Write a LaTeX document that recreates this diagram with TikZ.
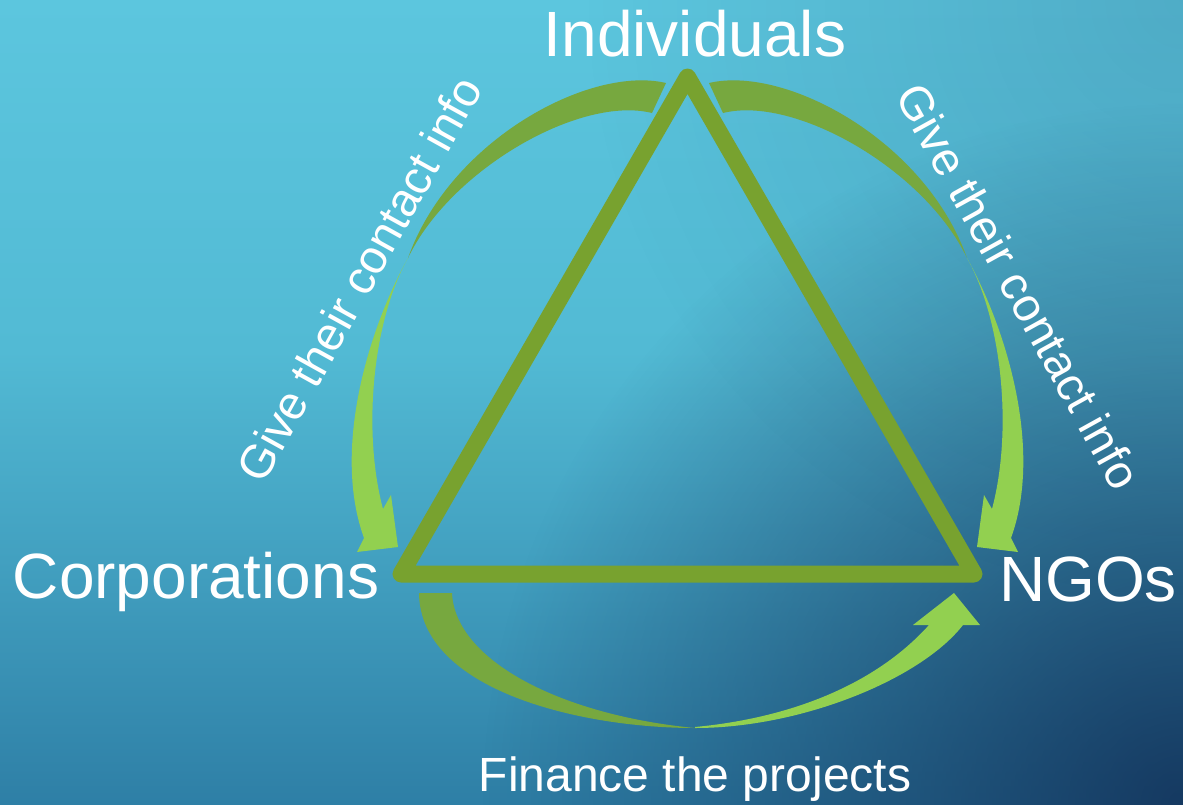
\documentclass[tikz,border=0pt]{standalone}
\usepackage{fontspec}
\setmainfont{Liberation Sans}
\usetikzlibrary{fadings}
\definecolor{bgTop}{RGB}{92,198,222}
\definecolor{bgUp}{RGB}{82,186,212}
\definecolor{bgMid}{RGB}{66,160,192}
\definecolor{bgBot}{RGB}{46,127,166}
\definecolor{bgNavy}{RGB}{15,40,80}
\definecolor{triGreen}{RGB}{120,162,47}
\definecolor{arrDark}{RGB}{119,168,63}
\definecolor{arrLight}{RGB}{146,208,80}
% vertical background shading: 25bp..75bp covers the picture (bottom..top)
\pgfdeclareverticalshading{bgvert}{100bp}{color(0bp)=(bgBot); color(25bp)=(bgBot); color(40.2bp)=(bgMid); color(53.2bp)=(bgUp); color(75bp)=(bgTop); color(100bp)=(bgTop)}
\tikzfading[name=cornerfade, inner color=transparent!20, outer color=transparent!100]
\tikzfading[name=topfade, inner color=transparent!84, outer color=transparent!100]
\begin{document}
\begin{tikzpicture}[x=1pt,y=-1pt,
  biglbl/.style={text=white, font=\fontsize{64}{72}\selectfont, inner sep=0pt},
  sidelbl/.style={text=white, font=\fontsize{48}{56}\selectfont, inner sep=0pt},
  rotlbl/.style={text=white, font=\fontsize{47}{56}\selectfont, inner sep=0pt},
  tri/.style={draw=triGreen, line width=17pt, line join=round},
  tailfill/.style={fill=arrDark},
  headfill/.style={fill=arrLight}]
\useasboundingbox (0,0) rectangle (1183,804);
\begin{scope}
\clip (0,0) rectangle (1183,804);
\shade[shading=bgvert] (0,0) rectangle (1183,804);
\fill[bgNavy, path fading=cornerfade] (1183,804) circle (700);
\fill[bgNavy, path fading=topfade] (1183,0) circle (600);
\end{scope}
% triangle vertices
\coordinate (vT) at (687.5,77);
\coordinate (vL) at (401,574);
\coordinate (vR) at (974,574);
% left curved arrow (Individuals -> Corporations)
\fill[tailfill] (666,83) .. controls (590,65) and (450,140) .. (408,258) .. controls (450,170) and (580,95) .. (652,113) -- cycle;
\fill[headfill] (408,258) .. controls (368,330) and (332,450) .. (364,538) -- (357,552) -- (398,547) -- (391,495) -- (383,509) .. controls (362,430) and (373,320) .. (408,258) -- cycle;
% right curved arrow (Individuals -> NGOs)
\fill[tailfill] (709,83) .. controls (785,65) and (925,140) .. (967,258) .. controls (925,170) and (795,95) .. (723,113) -- cycle;
\fill[headfill] (967,258) .. controls (1007,330) and (1043,450) .. (1011,538) -- (1018,552) -- (977,547) -- (984,495) -- (992,509) .. controls (1013,430) and (1002,320) .. (967,258) -- cycle;
% bottom curved arrow (Corporations -> NGOs)
\fill[tailfill] (419,593) .. controls (420,690) and (580,728) .. (695,728) .. controls (560,715) and (455,660) .. (452,593) -- cycle;
\fill[headfill] (695,728) .. controls (800,728) and (920,680) .. (963,625) -- (980,625) -- (954,593) -- (913,625) -- (929,625) .. controls (875,685) and (790,718) .. (695,727) -- cycle;
% triangle
\draw[tri] (vT) -- (vL) -- (vR) -- cycle;
% labels
\node[biglbl, anchor=base] (ind) at (695,56) {Individuals};
\node[biglbl, anchor=base] (corp) at (196,598) {Corporations};
\node[biglbl, anchor=base] (ngo) at (1088,601) {NGOs};
\node[sidelbl, anchor=base] (fin) at (695,791) {Finance the projects};
\node[rotlbl, rotate=61] (gl) at (359,279) {Give their contact info};
\node[rotlbl, rotate=-61] (gr) at (1019,286) {Give their contact info};
\end{tikzpicture}
\end{document}
